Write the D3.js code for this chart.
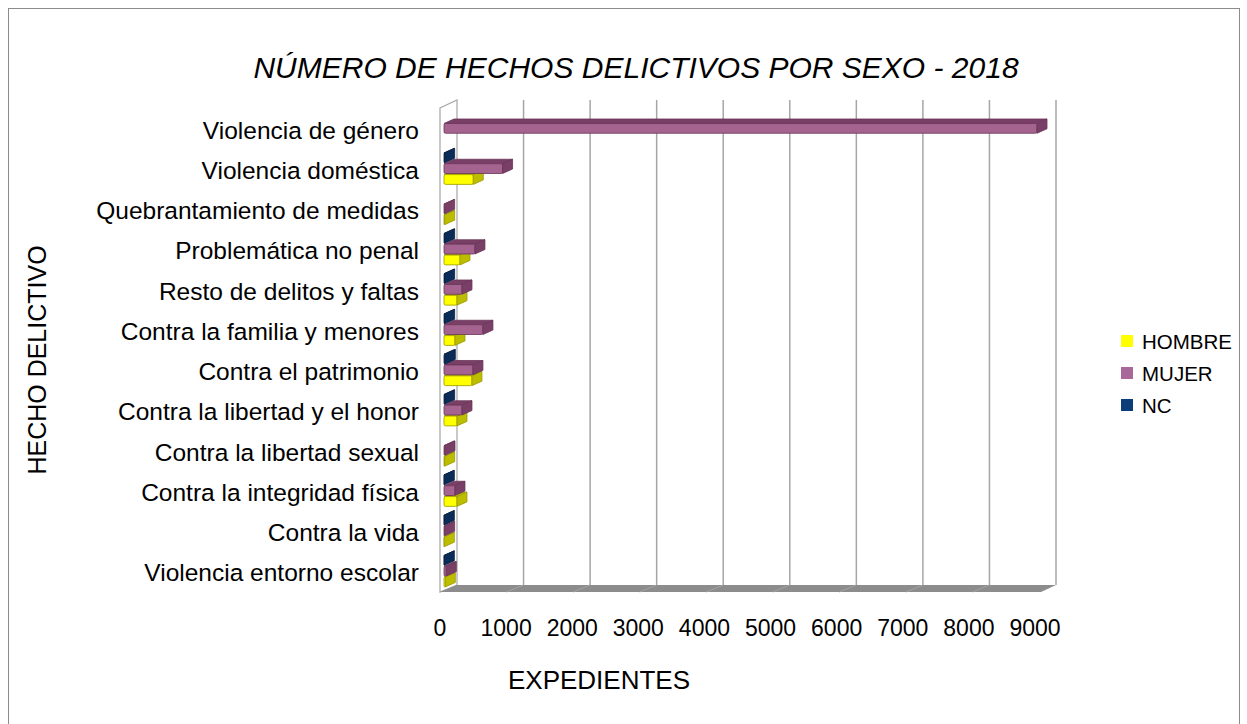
<!DOCTYPE html>
<html>
<head>
<meta charset="utf-8">
<script src="https://cdn.jsdelivr.net/npm/d3@7"></script>
<style>
  body { margin: 0; background: #fff; }
  svg { display: block; font-family: 'Liberation Sans', Arial, sans-serif; }
</style>
</head>
<body>
<div id="chart"></div>
<script>
// categories, top to bottom as in the picture
const categories = [
  'Violencia de género',
  'Violencia doméstica',
  'Quebrantamiento de medidas',
  'Problemática no penal',
  'Resto de delitos y faltas',
  'Contra la familia y menores',
  'Contra el patrimonio',
  'Contra la libertad y el honor',
  'Contra la libertad sexual',
  'Contra la integridad física',
  'Contra la vida',
  'Violencia entorno escolar',
]
const hombre = [0, 440, 10, 240, 195, 165, 420, 195, 10, 195, 5, 20]
const mujer = [8910, 880, 10, 465, 270, 585, 435, 270, 15, 165, 10, 35]
const nc = [0, 10, 0, 10, 10, 10, 20, 10, 0, 5, 5, 5]
const xTicks = [0, 1000, 2000, 3000, 4000, 5000, 6000, 7000, 8000, 9000]

const series = [
  { key: 'HOMBRE', values: hombre, front: '#ffff00', side: '#bdbd00', line: '#9a9a00', legend: '#ffff00' },
  { key: 'MUJER', values: mujer, front: '#a5648f', side: '#7a3f66', line: '#6a3558', legend: '#a8689a' },
  { key: 'NC', values: nc, front: '#0d3a70', side: '#0b2c58', line: '#08203f', legend: '#0b3e78' },
]

const width = 1247
const height = 724

const svg = d3.select('#chart')
  .append('svg')
  .attr('width', width)
  .attr('height', height)

// outer frame
svg.append('rect')
  .attr('x', 8.5).attr('y', 8.5)
  .attr('width', 1231).attr('height', 740)
  .attr('fill', '#fff')
  .attr('stroke', '#8c8c8c')

// back wall scale and depth offset of the 3d box
const xBack = d3.scaleLinear().domain([0, 9000]).range([457, 1056])
const depth = { dx: -17, dy: 7 }
const xFront = d3.scaleLinear().domain([0, 9000]).range([440, 1035])
const xBar = d3.scaleLinear().domain([0, 9000]).range([444, 1043])

const wallTop = 100
const wallBottom = 585

const y = d3.scaleBand().domain(categories).range([110, 593])
const ySub = d3.scaleBand().domain(['NC', 'MUJER', 'HOMBRE']).range([-17.5, 14]).paddingInner(0.1)

// left side wall
svg.append('path')
  .attr('d', d3.line()([
    [xBack(0) + depth.dx, wallTop + depth.dy + 1],
    [xBack(0), wallTop],
    [xBack(0), wallBottom],
    [xBack(0) + depth.dx, wallBottom + depth.dy],
  ]) + 'Z')
  .attr('fill', '#fff')
  .attr('stroke', '#a6a6a6')
  .attr('stroke-width', 1.2)

// gridlines on the back wall
svg.append('g')
  .selectAll('line')
  .data(xTicks.slice(1))
  .join('line')
  .attr('x1', (d) => xBack(d)).attr('x2', (d) => xBack(d))
  .attr('y1', wallTop).attr('y2', wallBottom)
  .attr('stroke', '#a6a6a6')
  .attr('stroke-width', 1.5)

// floor
svg.append('path')
  .attr('d', d3.line()([
    [xBack(0), wallBottom],
    [xBack(9000), wallBottom],
    [xBack(9000) + depth.dx + 2, wallBottom + depth.dy],
    [xBack(0) + depth.dx, wallBottom + depth.dy],
  ]) + 'Z')
  .attr('fill', '#8c8c8c')

svg.append('g')
  .selectAll('line')
  .data(xTicks.slice(1, -1))
  .join('line')
  .attr('x1', (d) => xBack(d)).attr('x2', (d) => xBack(d) + depth.dx)
  .attr('y1', wallBottom).attr('y2', wallBottom + depth.dy)
  .attr('stroke', '#a3a3a3')
  .attr('stroke-width', 1)

// 3d bars, drawn from the lowest series up
const bdx = 10
const bdy = -4.5
const bars = svg.append('g')
series.forEach((s) => {
  categories.forEach((c, i) => {
    const v = s.values[i]
    if (v <= 0) return
    const x0 = xBar(0)
    const x1 = xBar(v)
    const y0 = y(c) + y.bandwidth() / 2 + ySub(s.key)
    const y1 = y0 + ySub.bandwidth()
    const g = bars.append('g')
      .attr('stroke', s.line)
      .attr('stroke-width', 0.8)
      .attr('stroke-linejoin', 'round')
    // top face
    g.append('path')
      .attr('d', d3.line()([[x0, y0], [x1, y0], [x1 + bdx, y0 + bdy], [x0 + bdx, y0 + bdy]]) + 'Z')
      .attr('fill', s.side)
    // front face
    g.append('rect')
      .attr('x', x0).attr('y', y0)
      .attr('width', x1 - x0).attr('height', y1 - y0)
      .attr('rx', 1.5)
      .attr('fill', s.front)
    // right face
    g.append('path')
      .attr('d', d3.line()([[x1, y0], [x1 + bdx, y0 + bdy], [x1 + bdx, y1 + bdy], [x1, y1]]) + 'Z')
      .attr('fill', s.side)
  })
})

// category labels
svg.append('g')
  .selectAll('text')
  .data(categories)
  .join('text')
  .attr('x', 419)
  .attr('y', (d) => y(d) + y.bandwidth() / 2)
  .attr('text-anchor', 'end')
  .attr('dominant-baseline', 'central')
  .style('font-size', '24.5px')
  .attr('fill', '#000')
  .text((d) => d)

// value labels along the front edge
svg.append('g')
  .selectAll('text')
  .data(xTicks)
  .join('text')
  .attr('x', (d) => xFront(d))
  .attr('y', 628)
  .attr('text-anchor', 'middle')
  .attr('dominant-baseline', 'central')
  .style('font-size', '23px')
  .text((d) => d)

// titles
svg.append('text')
  .attr('x', 636).attr('y', 67)
  .attr('text-anchor', 'middle')
  .attr('dominant-baseline', 'central')
  .style('font-size', '30px')
  .style('font-style', 'italic')
  .text('NÚMERO DE HECHOS DELICTIVOS POR SEXO - 2018')

svg.append('text')
  .attr('x', 599).attr('y', 680)
  .attr('text-anchor', 'middle')
  .attr('dominant-baseline', 'central')
  .style('font-size', '26px')
  .text('EXPEDIENTES')

svg.append('text')
  .attr('transform', 'translate(37,360) rotate(-90)')
  .attr('text-anchor', 'middle')
  .attr('dominant-baseline', 'central')
  .style('font-size', '25px')
  .text('HECHO DELICTIVO')

// legend
const legend = svg.append('g')
  .selectAll('g')
  .data(series)
  .join('g')
  .attr('transform', (d, i) => `translate(1121, ${335 + i * 32})`)

legend.append('rect')
  .attr('width', 12).attr('height', 12)
  .attr('fill', (d) => d.legend)

legend.append('text')
  .attr('x', 21).attr('y', 6)
  .attr('dominant-baseline', 'central')
  .style('font-size', '20.5px')
  .text((d) => d.key)
</script>
</body>
</html>
